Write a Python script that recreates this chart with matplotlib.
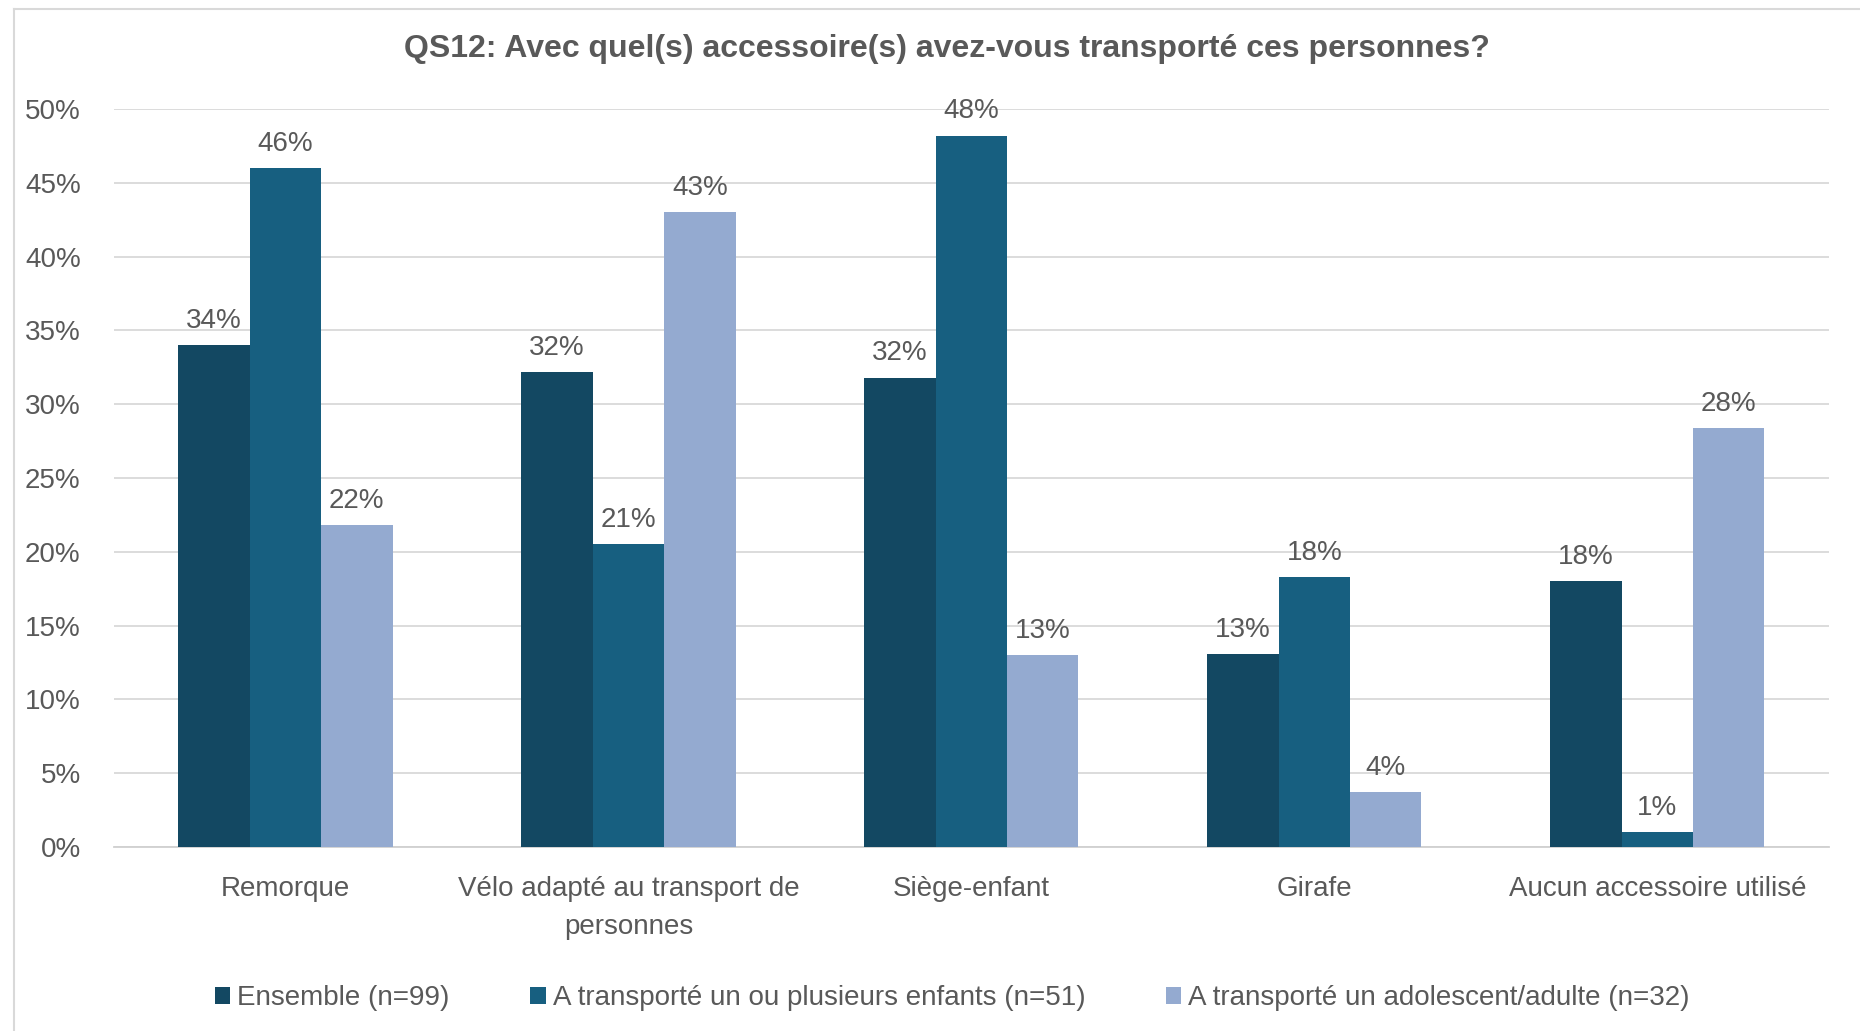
import matplotlib
matplotlib.use("Agg")
import matplotlib.pyplot as plt
import numpy as np
from matplotlib.lines import Line2D

plt.rcParams['font.family'] = ['Liberation Sans', 'DejaVu Sans']

title = "QS12: Avec quel(s) accessoire(s) avez-vous transporté ces personnes?"
categories = ["Remorque", "Vélo adapté au transport de\npersonnes", "Siège-enfant", "Girafe",
              "Aucun accessoire utilisé"]
series_names = ["Ensemble (n=99)", "A transporté un ou plusieurs enfants (n=51)",
                "A transporté un adolescent/adulte (n=32)"]
ensemble = [34.0, 32.2, 31.8, 13.1, 18.0]
enfants = [46.0, 20.5, 48.2, 18.3, 1.0]
ado_adulte = [21.8, 43.0, 13.0, 3.7, 28.4]
labels_ens = ["34%", "32%", "32%", "13%", "18%"]
labels_enf = ["46%", "21%", "48%", "18%", "1%"]
labels_ado = ["22%", "43%", "13%", "4%", "28%"]
yticks = [0, 5, 10, 15, 20, 25, 30, 35, 40, 45, 50]

colors = ["#134862", "#175F80", "#94AAD0"]
text_col = "#595959"

fig = plt.figure(figsize=(18.6, 10.31), dpi=100)
ax = fig.add_axes([0.0613, 0.1785, 0.922, 0.7158])

x = np.arange(len(categories))
w = 0.208
data = [ensemble, enfants, ado_adulte]
labs = [labels_ens, labels_enf, labels_ado]
for i, (vals, lab) in enumerate(zip(data, labs)):
    bars = ax.bar(x + (i - 1) * w, vals, width=w, color=colors[i], label=series_names[i], zorder=3)
    for b, t in zip(bars, lab):
        ax.annotate(t, (b.get_x() + b.get_width() / 2, b.get_height()), xytext=(0, 8),
                    textcoords="offset points", ha="center", va="bottom", fontsize=20,
                    color=text_col)

ax.set_xlim(-0.5, 4.5)
ax.set_ylim(0, 50)
ax.set_yticks(yticks)
ax.set_yticklabels([f"{v}%" for v in yticks])
ax.set_xticks(x)
ax.set_xticklabels(categories, fontsize=20, color=text_col, linespacing=1.6)
ax.tick_params(axis='y', labelsize=20, labelcolor=text_col, length=0, pad=24)
ax.tick_params(axis='x', length=0, pad=21)
ax.yaxis.grid(True, color="#D9D9D9", linewidth=1.3, zorder=0)
for s in ["top", "right", "left"]:
    ax.spines[s].set_visible(False)
ax.spines["bottom"].set_color("#D0D0D0")
ax.spines["bottom"].set_linewidth(1.3)
ax.set_axisbelow(True)

fig.text(0.509, 0.952, title, ha="center", va="center", fontsize=23, fontweight="bold",
         color=text_col)

leg = fig.legend(loc="center", bbox_to_anchor=(0.512, 0.032), ncol=3, frameon=False,
                 fontsize=20, handlelength=0.55, handleheight=0.55, handletextpad=0.25,
                 columnspacing=2.9)
for t in leg.get_texts():
    t.set_color(text_col)

# light frame
fig.add_artist(Line2D([14, 1860], [1031 - 9, 1031 - 9], transform=None, color="#D9D9D9", lw=1.5))
fig.add_artist(Line2D([14, 14], [0, 1031 - 9], transform=None, color="#D9D9D9", lw=1.5))

fig.savefig("out.png", dpi=100)
